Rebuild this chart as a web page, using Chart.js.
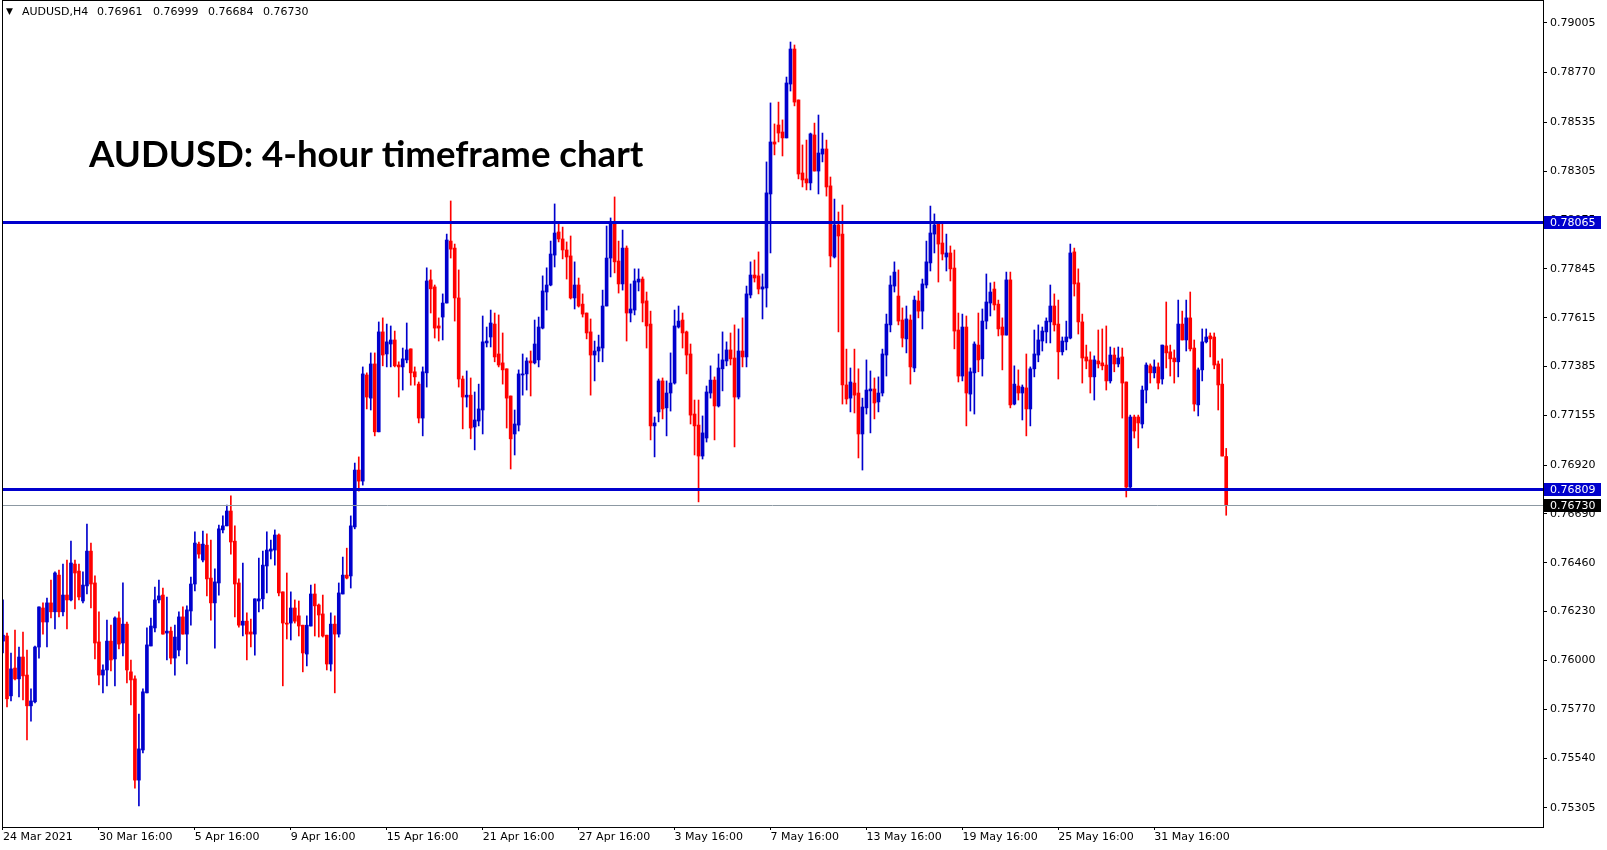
<!DOCTYPE html>
<html>
<head>
<meta charset="utf-8">
<script src="https://cdn.jsdelivr.net/npm/chart.js@4.4.0/dist/chart.umd.min.js"></script>
<style>
html, body { margin: 0; padding: 0; background: #fff; }
#wrap { position: relative; width: 1607px; height: 850px; }
</style>
</head>
<body>
<div id="wrap"><canvas id="myChart"></canvas></div>
<script>
// AUDUSD H4 candles, one per bar (bar 0 = 24 Mar 2021 16:00)
const openP = [
0.76091,0.76115,0.75833,0.75964,0.75913,0.76016,0.75931,0.75786,0.75805,0.76063,
0.76247,0.76181,0.76271,0.76229,0.76402,0.76229,0.76308,0.76285,0.76454,0.76421,
0.76280,0.76351,0.76515,0.76365,0.76087,0.75931,0.75955,0.76091,0.76007,0.76200,
0.76082,0.76171,0.75946,0.75913,0.75436,0.75578,0.75847,0.76068,0.76153,0.76285,
0.76308,0.76129,0.76138,0.76011,0.76049,0.76205,0.76124,0.76233,0.76360,0.76548,
0.76473,0.76543,0.76388,0.76271,0.76365,0.76615,0.76634,0.76704,0.76562,0.76365,
0.76166,0.76185,0.76134,0.76124,0.76280,0.76290,0.76445,0.76515,0.76520,0.76591,
0.76323,0.76176,0.76176,0.76247,0.76210,0.76166,0.76030,0.76162,0.76313,0.76261,
0.76219,0.76119,0.75983,0.76171,0.76124,0.76313,0.76402,0.76398,0.76629,0.76897,
0.76845,0.77345,0.77236,0.77397,0.77077,0.77548,0.77444,0.77491,0.77510,0.77392,
0.77383,0.77416,0.77468,0.77360,0.77302,0.77142,0.77355,0.77793,0.77760,0.77576,
0.77618,0.77684,0.77976,0.77943,0.77708,0.77326,0.77241,0.77250,0.77100,0.77128,
0.77180,0.77496,0.77524,0.77585,0.77444,0.77402,0.77374,0.77246,0.77067,0.77109,
0.77345,0.77350,0.77411,0.77402,0.77416,0.77566,0.77736,0.77769,0.77910,0.78019,
0.77986,0.77934,0.77906,0.77708,0.77769,0.77679,0.77637,0.77548,0.77439,0.77458,
0.77472,0.77670,0.77896,0.78056,0.77882,0.77774,0.77943,0.77637,0.77651,0.77783,
0.77797,0.77694,0.77585,0.77105,0.77171,0.77317,0.77190,0.77260,0.77307,0.77571,
0.77604,0.77548,0.77444,0.77161,0.77109,0.76963,0.77048,0.77260,0.77321,0.77199,
0.77374,0.77411,0.77463,0.77425,0.77241,0.77458,0.77430,0.77722,0.77816,0.77812,
0.77750,0.77755,0.78198,0.78443,0.78523,0.78490,0.78462,0.78716,0.78881,0.78641,
0.78297,0.78269,0.78250,0.78476,0.78306,0.78386,0.78410,0.78236,0.77901,0.78052,
0.78009,0.77298,0.77236,0.77307,0.77260,0.77067,0.77190,0.77270,0.77279,0.77218,
0.77260,0.77439,0.77581,0.77764,0.77717,0.77604,0.77515,0.77604,0.77378,0.77694,
0.77646,0.77769,0.77873,0.78009,0.78056,0.77967,0.77901,0.77920,0.77849,0.77557,
0.77340,0.77571,0.77255,0.77355,0.77486,0.77421,0.77599,0.77684,0.77750,0.77679,
0.77571,0.77533,0.77793,0.77208,0.77293,0.77260,0.77284,0.77185,0.77374,0.77439,
0.77505,0.77548,0.77595,0.77670,0.77585,0.77454,0.77501,0.77519,0.77925,0.77779,
0.77595,0.77430,0.77416,0.77336,0.77411,0.77402,0.77392,0.77317,0.77439,0.77397,
0.77430,0.77312,0.76817,0.77147,0.77147,0.77114,0.77274,0.77388,0.77355,0.77383,
0.77326,0.77482,0.77454,0.77425,0.77407,0.77585,0.77510,0.77614,0.77472,0.77204,
0.77369,0.77501,0.77529,0.77524,0.77397,0.77302,0.76961
];
const highP = [
0.76285,0.76129,0.76035,0.76143,0.76063,0.76134,0.76049,0.75866,0.76068,0.76252,
0.76271,0.76294,0.76379,0.76417,0.76426,0.76454,0.76473,0.76562,0.76473,0.76454,
0.76417,0.76643,0.76553,0.76398,0.76229,0.75979,0.76190,0.76166,0.76205,0.76229,
0.76365,0.76181,0.76002,0.75927,0.75747,0.75866,0.76153,0.76200,0.76346,0.76379,
0.76341,0.76299,0.76157,0.76166,0.76229,0.76252,0.76257,0.76393,0.76606,0.76558,
0.76610,0.76596,0.76567,0.76431,0.76638,0.76681,0.76732,0.76775,0.76634,0.76384,
0.76459,0.76224,0.76195,0.76290,0.76482,0.76515,0.76606,0.76567,0.76615,0.76596,
0.76323,0.76412,0.76323,0.76285,0.76280,0.76166,0.76210,0.76355,0.76360,0.76266,
0.76308,0.76119,0.76224,0.76210,0.76365,0.76487,0.76529,0.76681,0.76930,0.76959,
0.77383,0.77355,0.77449,0.77449,0.77595,0.77614,0.77585,0.77576,0.77552,0.77407,
0.77472,0.77590,0.77468,0.77383,0.77312,0.77383,0.77850,0.77840,0.77769,0.77614,
0.77727,0.78009,0.78165,0.77962,0.77840,0.77340,0.77364,0.77331,0.77265,0.77302,
0.77623,0.77571,0.77651,0.77637,0.77628,0.77543,0.77374,0.77246,0.77180,0.77369,
0.77444,0.77426,0.77458,0.77604,0.77618,0.77812,0.77850,0.77976,0.78151,0.78061,
0.78042,0.77972,0.78000,0.77878,0.77802,0.77727,0.77637,0.77609,0.77505,0.77533,
0.77745,0.78047,0.78085,0.78184,0.77976,0.78028,0.77953,0.77774,0.77845,0.77845,
0.77807,0.77736,0.77646,0.77147,0.77326,0.77331,0.77317,0.77449,0.77651,0.77670,
0.77637,0.77552,0.77491,0.77227,0.77227,0.77152,0.77293,0.77388,0.77336,0.77444,
0.77548,0.77501,0.77543,0.77581,0.77562,0.77614,0.77764,0.77878,0.77887,0.77925,
0.77821,0.78349,0.78627,0.78528,0.78631,0.78547,0.78749,0.78914,0.78900,0.78641,
0.78429,0.78452,0.78485,0.78532,0.78570,0.78485,0.78452,0.78278,0.78174,0.78113,
0.78146,0.77467,0.77378,0.77467,0.77374,0.77236,0.77416,0.77364,0.77331,0.77336,
0.77467,0.77632,0.77812,0.77878,0.77840,0.77661,0.77670,0.77628,0.77717,0.77741,
0.77797,0.77976,0.78141,0.78104,0.78061,0.78056,0.78009,0.77953,0.77934,0.77637,
0.77632,0.77623,0.77378,0.77501,0.77637,0.77656,0.77821,0.77779,0.77783,0.77698,
0.77614,0.77830,0.77830,0.77388,0.77369,0.77298,0.77444,0.77383,0.77557,0.77581,
0.77571,0.77614,0.77769,0.77727,0.77698,0.77524,0.77599,0.77962,0.77943,0.77845,
0.77632,0.77486,0.77454,0.77435,0.77557,0.77562,0.77576,0.77477,0.77472,0.77477,
0.77472,0.77312,0.77156,0.77156,0.77156,0.77293,0.77402,0.77397,0.77416,0.77402,
0.77486,0.77689,0.77486,0.77463,0.77698,0.77646,0.77698,0.77736,0.77510,0.77378,
0.77562,0.77562,0.77543,0.77543,0.77411,0.77421,0.76999
];
const lowP = [
0.76035,0.75781,0.75809,0.75908,0.75828,0.75814,0.75625,0.75714,0.75800,0.76011,
0.76124,0.76063,0.76200,0.76148,0.76205,0.76210,0.76148,0.76280,0.76243,0.76285,
0.76271,0.76313,0.76247,0.76007,0.75884,0.75847,0.75880,0.75950,0.75880,0.76054,
0.76021,0.75894,0.75790,0.75398,0.75314,0.75564,0.75847,0.76068,0.76134,0.76271,
0.76124,0.76002,0.75983,0.75931,0.76021,0.76124,0.75983,0.76166,0.76327,0.76482,
0.76464,0.76304,0.76190,0.76058,0.76308,0.76601,0.76634,0.76501,0.76205,0.76157,
0.76115,0.76002,0.76063,0.76025,0.76229,0.76243,0.76318,0.76478,0.76449,0.76304,
0.75880,0.76101,0.76096,0.76176,0.76115,0.75946,0.75974,0.76162,0.76115,0.76110,
0.76110,0.75955,0.75950,0.75847,0.76110,0.76313,0.76384,0.76341,0.76620,0.76798,
0.76826,0.77185,0.77180,0.77058,0.77077,0.77388,0.77383,0.77383,0.77383,0.77241,
0.77274,0.77402,0.77297,0.77297,0.77119,0.77058,0.77288,0.77637,0.77519,0.77505,
0.77510,0.77684,0.77896,0.77599,0.77288,0.77091,0.77194,0.77044,0.76992,0.77105,
0.77067,0.77477,0.77477,0.77407,0.77383,0.77302,0.77095,0.76902,0.76968,0.77081,
0.77250,0.77274,0.77246,0.77397,0.77383,0.77562,0.77651,0.77765,0.77854,0.77972,
0.77892,0.77797,0.77703,0.77656,0.77665,0.77618,0.77515,0.77250,0.77317,0.77407,
0.77407,0.77670,0.77807,0.77826,0.77731,0.77745,0.77505,0.77595,0.77628,0.77741,
0.77595,0.77472,0.77039,0.76959,0.77124,0.77138,0.77058,0.77175,0.77302,0.77566,
0.77472,0.77350,0.77114,0.76968,0.76747,0.76949,0.77029,0.77236,0.77039,0.77194,
0.77270,0.77388,0.77392,0.77006,0.77232,0.77383,0.77383,0.77708,0.77783,0.77727,
0.77609,0.77665,0.77920,0.78382,0.78443,0.78377,0.78462,0.78683,0.78613,0.78269,
0.78231,0.78217,0.78217,0.78306,0.78198,0.78349,0.78188,0.77854,0.77896,0.77548,
0.77208,0.77208,0.77171,0.77166,0.76954,0.76897,0.77161,0.77072,0.77138,0.77171,
0.77246,0.77340,0.77548,0.77736,0.77581,0.77477,0.77449,0.77302,0.77360,0.77614,
0.77562,0.77755,0.77835,0.77920,0.77783,0.77887,0.77835,0.77788,0.77468,0.77312,
0.77317,0.77105,0.77175,0.77161,0.77360,0.77340,0.77562,0.77623,0.77651,0.77529,
0.77369,0.77533,0.77190,0.77204,0.77227,0.77133,0.77058,0.77105,0.77336,0.77407,
0.77458,0.77496,0.77496,0.77552,0.77326,0.77439,0.77463,0.77515,0.77717,0.77538,
0.77307,0.77374,0.77260,0.77227,0.77378,0.77369,0.77274,0.77307,0.77360,0.77383,
0.77142,0.76770,0.76808,0.77048,0.77001,0.77095,0.77213,0.77307,0.77331,0.77279,
0.77302,0.77378,0.77340,0.77307,0.77336,0.77510,0.77458,0.77458,0.77175,0.77152,
0.77317,0.77496,0.77430,0.77374,0.77180,0.76963,0.76684
];
const closeP = [
0.76119,0.75819,0.75960,0.75913,0.76016,0.75927,0.75786,0.75809,0.76063,0.76252,
0.76181,0.76271,0.76229,0.76412,0.76229,0.76308,0.76285,0.76459,0.76412,0.76299,
0.76355,0.76515,0.76360,0.76082,0.75931,0.75955,0.76091,0.76002,0.76200,0.76077,
0.76171,0.75955,0.75908,0.75436,0.75583,0.75852,0.76073,0.76162,0.76285,0.76304,
0.76124,0.76138,0.76011,0.76110,0.76205,0.76124,0.76238,0.76360,0.76553,0.76501,
0.76548,0.76384,0.76271,0.76370,0.76620,0.76634,0.76704,0.76558,0.76360,0.76166,
0.76185,0.76124,0.76124,0.76290,0.76290,0.76449,0.76520,0.76525,0.76591,0.76318,
0.76176,0.76171,0.76247,0.76185,0.76162,0.76035,0.76166,0.76313,0.76257,0.76214,
0.76115,0.75983,0.76171,0.76124,0.76318,0.76402,0.76388,0.76634,0.76897,0.76845,
0.77350,0.77241,0.77397,0.77077,0.77548,0.77439,0.77501,0.77510,0.77388,0.77383,
0.77421,0.77463,0.77355,0.77336,0.77142,0.77360,0.77788,0.77751,0.77566,0.77566,
0.77684,0.77981,0.77938,0.77708,0.77326,0.77241,0.77250,0.77095,0.77133,0.77185,
0.77501,0.77505,0.77590,0.77430,0.77392,0.77369,0.77236,0.77044,0.77114,0.77350,
0.77350,0.77411,0.77402,0.77491,0.77571,0.77741,0.77769,0.77915,0.78014,0.77986,
0.77934,0.77901,0.77708,0.77769,0.77670,0.77632,0.77543,0.77439,0.77458,0.77477,
0.77670,0.77896,0.78056,0.77878,0.77774,0.77943,0.77637,0.77656,0.77788,0.77797,
0.77684,0.77576,0.77105,0.77119,0.77317,0.77185,0.77260,0.77307,0.77576,0.77599,
0.77543,0.77439,0.77156,0.77105,0.76963,0.77072,0.77265,0.77321,0.77199,0.77378,
0.77416,0.77463,0.77421,0.77241,0.77458,0.77430,0.77727,0.77816,0.77802,0.77750,
0.77760,0.78203,0.78443,0.78433,0.78485,0.78462,0.78721,0.78881,0.78631,0.78292,
0.78264,0.78250,0.78481,0.78306,0.78391,0.78410,0.78231,0.77906,0.78052,0.78000,
0.77298,0.77232,0.77312,0.77250,0.77067,0.77194,0.77274,0.77279,0.77213,0.77260,
0.77444,0.77585,0.77769,0.77830,0.77599,0.77519,0.77609,0.77383,0.77698,0.77646,
0.77774,0.77878,0.78014,0.78052,0.77962,0.77915,0.77920,0.77845,0.77552,0.77340,
0.77571,0.77260,0.77360,0.77491,0.77416,0.77599,0.77689,0.77736,0.77675,0.77562,
0.77533,0.77793,0.77204,0.77302,0.77260,0.77288,0.77185,0.77374,0.77444,0.77510,
0.77552,0.77599,0.77670,0.77581,0.77454,0.77505,0.77524,0.77920,0.77774,0.77595,
0.77425,0.77411,0.77336,0.77416,0.77397,0.77388,0.77317,0.77439,0.77397,0.77425,
0.77307,0.76817,0.77147,0.77081,0.77119,0.77274,0.77392,0.77355,0.77383,0.77307,
0.77486,0.77449,0.77421,0.77407,0.77585,0.77510,0.77614,0.77468,0.77208,0.77369,
0.77501,0.77524,0.77515,0.77392,0.77298,0.76963,0.76730
];

// bottom axis labels (every 24 bars)
const tickBars = [0, 24, 48, 72, 96, 120, 144, 168, 192, 216, 240, 264, 288];
const tickText = ['24 Mar 2021', '30 Mar 16:00', '5 Apr 16:00', '9 Apr 16:00', '15 Apr 16:00',
  '21 Apr 16:00', '27 Apr 16:00', '3 May 16:00', '7 May 16:00', '13 May 16:00',
  '19 May 16:00', '25 May 16:00', '31 May 16:00'];
// price scale labels
const priceTicks = [0.79005, 0.78770, 0.78535, 0.78305, 0.78075, 0.77845, 0.77615, 0.77385,
  0.77155, 0.76920, 0.76690, 0.76460, 0.76230, 0.76000, 0.75770, 0.75540, 0.75305];
// horizontal levels and current price
const levels = [0.78065, 0.76809];
const lastPrice = 0.76730;
const header = ['AUDUSD,H4', '0.76961', '0.76999', '0.76684', '0.76730'];

const BULL = '#0000cd';
const BEAR = '#ff0000';
const FONT = '"DejaVu Sans", Verdana, sans-serif';

const bodies = [], wicks = [], colors = [];
openP.forEach((o, i) => {
  const c = closeP[i];
  bodies.push({ x: i, y: [Math.min(o, c), Math.max(o, c)] });
  wicks.push({ x: i, y: [lowP[i], highP[i]] });
  colors.push(c >= o ? BULL : BEAR);
});

// no label padding: plot area runs to the canvas top
function noPad(s) {
  s.paddingTop = 0; s.paddingBottom = 0; s.paddingLeft = 0; s.paddingRight = 0;
}

const overlay = {
  id: 'overlay',
  afterDatasetsDraw(chart) {
    const { ctx, chartArea: a, scales: { y } } = chart;
    ctx.save();
    // current price line
    const by = Math.round(y.getPixelForValue(lastPrice)) + 0.5;
    ctx.strokeStyle = '#8c98a2';
    ctx.lineWidth = 1;
    ctx.beginPath(); ctx.moveTo(a.left, by); ctx.lineTo(a.right, by); ctx.stroke();
    // support / resistance
    ctx.strokeStyle = BULL;
    ctx.lineWidth = 3;
    levels.forEach(v => {
      const ly = Math.round(y.getPixelForValue(v)) + 0.5;
      ctx.beginPath(); ctx.moveTo(a.left, ly); ctx.lineTo(a.right, ly); ctx.stroke();
    });
    // frame
    ctx.strokeStyle = '#000';
    ctx.lineWidth = 1;
    ctx.strokeRect(a.left + 0.5, a.top + 0.5, a.right - a.left, a.bottom - a.top);
    // header
    ctx.fillStyle = '#000';
    ctx.textBaseline = 'middle';
    ctx.font = '9px ' + FONT;
    ctx.fillText('\u25BC', 6, 12);
    ctx.font = '11px ' + FONT;
    const hx = [22, 97, 153, 208, 263];
    header.forEach((t, i) => ctx.fillText(t, hx[i], 12));
    // title
    ctx.font = 'bold 36.6px Lato, "Open Sans", sans-serif';
    ctx.textBaseline = 'alphabetic';
    ctx.fillText('AUDUSD: 4-hour timeframe chart', 89, 167);
    ctx.restore();
  },
  afterDraw(chart) {
    const { ctx, chartArea: a, scales: { y } } = chart;
    ctx.save();
    ctx.font = '11px ' + FONT;
    ctx.textBaseline = 'middle';
    const boxes = [[levels[0], BULL], [levels[1], BULL], [lastPrice, '#000']];
    boxes.forEach(([v, col]) => {
      const cy = Math.round(y.getPixelForValue(v));
      ctx.fillStyle = col;
      ctx.fillRect(a.right + 1, cy - 6, 57, 13);
      ctx.fillStyle = '#fff';
      ctx.fillText(v.toFixed(5), a.right + 7, cy + 1);
    });
    ctx.restore();
  }
};

const ctx = document.getElementById('myChart').getContext('2d');
const myChart = new Chart(ctx, {
  type: 'bar',
  data: {
    datasets: [
      { data: bodies, backgroundColor: colors, barThickness: 3, minBarLength: 1, grouped: false, borderWidth: 0 },
      { data: wicks, backgroundColor: colors, barThickness: 1, grouped: false, borderWidth: 0 }
    ]
  },
  options: {
    responsive: true,
    maintainAspectRatio: false,
    animation: false,
    events: [],
    layout: { padding: { left: 2, top: 0, right: 0, bottom: 0 } },
    plugins: { legend: { display: false }, tooltip: { enabled: false }, title: { display: false } },
    scales: {
      x: {
        type: 'linear',
        offset: false,
        min: -0.25,
        max: 385.25,
        afterBuildTicks: s => { s.ticks = tickBars.map(v => ({ value: v })); },
        afterFit: s => { s.height = 23; noPad(s); },
        ticks: {
          callback: v => tickText[tickBars.indexOf(v)],
          align: 'start',
          autoSkip: false,
          maxRotation: 0,
          padding: 1,
          color: '#000',
          font: { family: FONT, size: 11 }
        },
        grid: { offset: false, drawOnChartArea: false, tickLength: 3, color: '#000' },
        border: { display: false }
      },
      y: {
        position: 'right',
        min: 0.75215,
        max: 0.79112,
        beginAtZero: false,
        afterBuildTicks: s => { s.ticks = priceTicks.map(v => ({ value: v })); },
        afterFit: s => { s.width = 64; noPad(s); },
        ticks: {
          callback: v => v.toFixed(5),
          padding: 3,
          color: '#000',
          font: { family: FONT, size: 11 }
        },
        grid: { drawOnChartArea: false, tickLength: 4, color: '#000' },
        border: { display: false }
      }
    }
  },
  plugins: [overlay]
});
</script>
</body>
</html>
